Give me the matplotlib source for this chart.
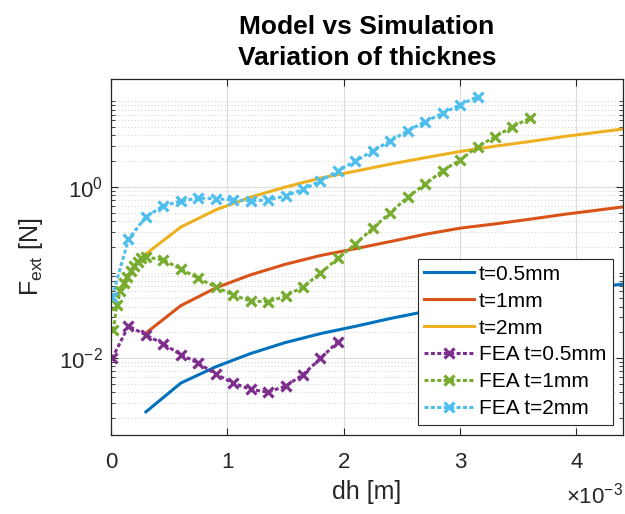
import numpy as np
import matplotlib
matplotlib.use('Agg')
import matplotlib.pyplot as plt
from matplotlib.ticker import FixedLocator, LogLocator, FuncFormatter, NullFormatter

plt.rcParams['font.family'] = ['Liberation Sans', 'DejaVu Sans']
plt.rcParams['mathtext.fontset'] = 'custom'
plt.rcParams['mathtext.rm'] = 'Liberation Sans'
plt.rcParams['mathtext.it'] = 'Liberation Sans:italic'
plt.rcParams['mathtext.bf'] = 'Liberation Sans:bold'

# model curves (dh in 1e-3 m)
dh_model = np.array([0.3, 0.6, 0.9, 1.2, 1.5, 1.8, 2.1, 2.4, 2.7, 3.0, 3.3, 3.6, 3.9, 4.2, 4.5]) * 1e-3
F_model_05 = [0.00235, 0.0051, 0.0079, 0.0113, 0.0152, 0.0193, 0.0235, 0.029, 0.035, 0.041,
              0.047, 0.053, 0.060, 0.068, 0.076]
F_model_1 = [0.0196, 0.041, 0.066, 0.094, 0.125, 0.158, 0.19, 0.23, 0.28, 0.33,
             0.37, 0.42, 0.48, 0.54, 0.61]
F_model_2 = [0.165, 0.34, 0.54, 0.76, 1.0, 1.27, 1.53, 1.85, 2.2, 2.6,
             3.0, 3.4, 3.9, 4.4, 4.95]

# FEA results
dh_fea_05 = np.array([0.01, 0.15, 0.3, 0.45, 0.6, 0.75, 0.9, 1.05, 1.2, 1.35, 1.5, 1.65, 1.8, 1.95]) * 1e-3
F_fea_05 = [0.0099, 0.0237, 0.0186, 0.0146, 0.011, 0.0087, 0.0065, 0.0051, 0.0043, 0.0040,
            0.0047, 0.0064, 0.0099, 0.0155]

dh_fea_1 = np.array([0.02, 0.05, 0.08, 0.11, 0.14, 0.17, 0.2, 0.23, 0.26, 0.3,
                     0.45, 0.6, 0.75, 0.9, 1.05, 1.2, 1.35, 1.5, 1.65, 1.8, 1.95,
                     2.1, 2.25, 2.4, 2.55, 2.7, 2.85, 3.0, 3.15, 3.3, 3.45, 3.6]) * 1e-3
F_fea_1 = [0.021, 0.042, 0.06, 0.075, 0.089, 0.104, 0.12, 0.134, 0.147, 0.152,
           0.14, 0.11, 0.0855, 0.068, 0.0546, 0.0464, 0.0456, 0.053, 0.068, 0.098, 0.147,
           0.215, 0.33, 0.50, 0.76, 1.08, 1.55, 2.07, 2.96, 3.87, 5.07, 6.36]

dh_fea_2 = np.array([0.01, 0.15, 0.3, 0.45, 0.6, 0.75, 0.9, 1.05, 1.2, 1.35, 1.5,
                     1.65, 1.8, 1.95, 2.1, 2.25, 2.4, 2.55, 2.7, 2.85, 3.0, 3.15]) * 1e-3
F_fea_2 = [0.052, 0.245, 0.45, 0.60, 0.686, 0.74, 0.73, 0.705, 0.686, 0.705, 0.785,
           0.94, 1.175, 1.54, 2.01, 2.64, 3.45, 4.55, 5.8, 7.28, 9.1, 11.4]

labels = ['t=0.5mm', 't=1mm', 't=2mm', 'FEA t=0.5mm', 'FEA t=1mm', 'FEA t=2mm']
colors = ['#0072BD', '#D95319', '#EDB120', '#7E2F8E', '#77AC30', '#4DBEEE']

fig = plt.figure(figsize=(6.25, 5.14), dpi=100)
ax = fig.add_axes([111/625, 1-435/514, 512/625, 356/514])

ax.plot(dh_model, F_model_05, color=colors[0], lw=2.2, label=labels[0])
ax.plot(dh_model, F_model_1, color=colors[1], lw=2.2, label=labels[1])
ax.plot(dh_model, F_model_2, color=colors[2], lw=2.2, label=labels[2])
fea_style = dict(lw=2.2, ls=(0, (1.3, 0.8)), marker='x', ms=7, mew=2.3)
ax.plot(dh_fea_05, F_fea_05, color=colors[3], label=labels[3], **fea_style)
ax.plot(dh_fea_1, F_fea_1, color=colors[4], label=labels[4], **fea_style)
ax.plot(dh_fea_2, F_fea_2, color=colors[5], label=labels[5], **fea_style)

ax.set_yscale('log')
ax.set_xlim(0, 4.4e-3)
ax.set_ylim(1.26e-3, 18.3)
ax.xaxis.set_major_locator(FixedLocator([0, 1e-3, 2e-3, 3e-3, 4e-3]))
ax.xaxis.set_major_formatter(FuncFormatter(lambda v, p: f'{v*1e3:g}'))
ax.yaxis.set_major_locator(FixedLocator([1e-2, 1e0]))
ax.yaxis.set_major_formatter(FuncFormatter(lambda v, p: r'$10^{%d}$' % round(np.log10(v))))
ax.yaxis.set_minor_locator(LogLocator(base=10, subs=np.arange(1, 10), numticks=20))
ax.yaxis.set_minor_formatter(NullFormatter())

ax.grid(True, which='major', color='#dcdcdc', lw=0.8, ls='-')
ax.grid(True, which='minor', axis='y', color='#d8d8d8', lw=0.8, ls=(0, (1, 2)))
ax.set_axisbelow(True)
ax.tick_params(which='both', direction='in', top=True, right=True, colors='#262626',
               labelcolor='#262626', labelsize=16)
ax.tick_params(which='major', length=5, width=0.8)
ax.tick_params(which='minor', length=3, width=0.6)
ax.tick_params(axis='x', pad=12)
ax.tick_params(axis='y', pad=6)
for s in ax.spines.values():
    s.set_color('#262626')
    s.set_linewidth(0.9)

ax.set_xlabel('dh [m]', fontsize=18, color='#262626', labelpad=5)
ax.set_ylabel(r'F$_{\rm ext}$ [N]', fontsize=18, color='#262626', labelpad=10)
ax.text(1.0, -0.135, r'$\times 10^{-3}$', transform=ax.transAxes, ha='right', va='top',
        fontsize=16, color='#262626')
ax.set_title('Model vs Simulation\nVariation of thicknes', fontsize=19, fontweight='bold',
             pad=10, linespacing=1.35)

leg = ax.legend(loc='lower right', fontsize=15, handlelength=2.4, handletextpad=0.25,
                labelspacing=0.38, borderpad=0.3, borderaxespad=0.5, fancybox=False,
                framealpha=1, edgecolor='#262626', numpoints=1)
leg.get_frame().set_linewidth(0.8)

fig.savefig('out.png', dpi=100)
